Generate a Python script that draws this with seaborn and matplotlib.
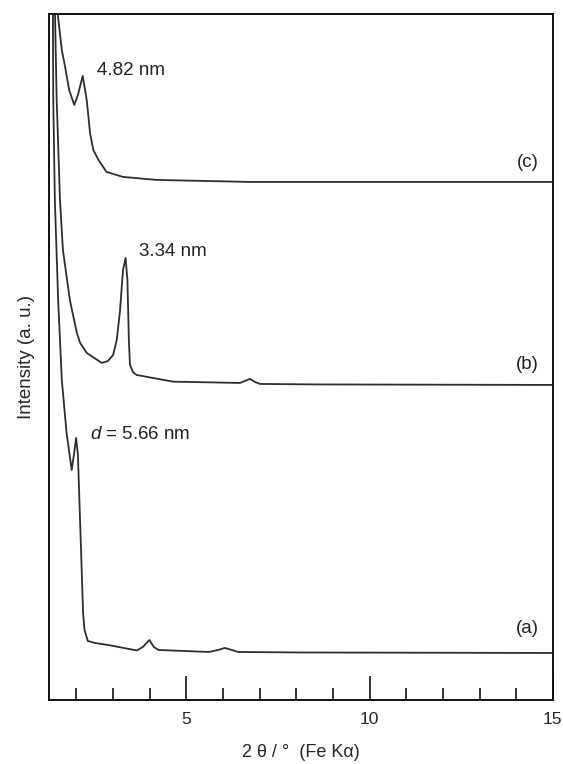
import pandas as pd
import matplotlib.pyplot as plt
import seaborn as sns
from matplotlib.ticker import MultipleLocator, FixedLocator

# Patrones XRD a bajo angulo (intensidad con desplazamiento)
two_theta_a = [1.345, 1.367, 1.41, 1.50, 1.60, 1.73, 1.87, 1.93, 1.99, 2.04, 2.08, 2.14,
               2.18, 2.22, 2.31, 2.505, 2.86, 3.65, 3.81, 3.99, 4.11, 4.24, 5.62, 5.86,
               6.05, 6.24, 6.41, 8.10, 15.0]
intensity_a = [800, 600, 500, 400, 320, 267, 230, 245, 262, 245, 200, 133,
               87, 70, 59, 57, 55, 49.5, 53, 60, 53, 50, 48, 50,
               52, 50, 48, 47.5, 47]

two_theta_b = [1.414, 1.46, 1.55, 1.63, 1.82, 2.01, 2.10, 2.28, 2.69, 2.86, 3.00, 3.10,
               3.19, 3.27, 3.34, 3.39, 3.43, 3.46, 3.54, 3.64, 4.63, 6.46, 6.60, 6.73,
               6.87, 7.01, 8.64, 15.0]
intensity_b = [686, 600, 500, 450, 400, 367, 357, 347, 337, 339, 345, 360,
               390, 430, 442, 420, 360, 335, 328, 325, 318.3, 317, 319, 321,
               318, 316, 315.5, 315]

two_theta_c = [1.48, 1.50, 1.60, 1.69, 1.80, 1.94, 2.04, 2.17, 2.28, 2.37, 2.46, 2.60,
               2.82, 3.27, 4.19, 6.73, 15.0]
intensity_c = [700, 682, 650, 633, 610, 595, 605, 624, 600, 567, 550, 540,
               528, 523, 520, 518, 518]

curve_labels = ["(a)", "(b)", "(c)"]
label_y = [71, 335, 537]
peak_notes = ["$d$ = 5.66 nm", "3.34 nm", "4.82 nm"]
note_x = [2.37, 3.71, 2.56]
note_y = [265, 448, 629]

sns.set_style("white")
plt.rcParams["font.family"] = ["Liberation Sans", "DejaVu Sans"]
plt.rcParams["mathtext.fontset"] = "custom"
plt.rcParams["mathtext.it"] = "Liberation Sans:italic"
plt.rcParams["mathtext.rm"] = "Liberation Sans"

fig = plt.figure(figsize=(5.63, 7.64), dpi=100)
ax = fig.add_axes([0.087, 0.0838, 0.895, 0.898])

color = "#2e2e2e"
for tt, ii in [(two_theta_a, intensity_a), (two_theta_b, intensity_b), (two_theta_c, intensity_c)]:
    df = pd.DataFrame({"t": tt, "i": ii})
    sns.lineplot(data=df, x="t", y="i", ax=ax, color=color, linewidth=1.3,
                 estimator=None, sort=False)

for lab, yy in zip(curve_labels, label_y):
    ax.text(14.62, yy, lab, ha="right", va="center", fontsize=13.5, color="#222222")
for note, xx, yy in zip(peak_notes, note_x, note_y):
    ax.text(xx, yy, note, ha="left", va="center", fontsize=13.5, color="#222222")

ax.set_xlim(1.25, 15)
ax.set_ylim(0, 686)
ax.set_yticks([])
ax.xaxis.set_major_locator(FixedLocator([5, 10, 15]))
ax.xaxis.set_minor_locator(MultipleLocator(1))
ax.tick_params(axis="x", which="major", direction="in", length=17, width=1.2,
               labelsize=12.5, pad=9, bottom=True, top=False, color="#111111")
ax.tick_params(axis="x", which="minor", direction="in", length=8.5, width=1.2,
               bottom=True, top=False, color="#111111")
for sp in ax.spines.values():
    sp.set_color("#111111")
    sp.set_linewidth(1.4)

ax.set_xlabel("2 θ / °  (Fe Kα)", fontsize=13, labelpad=12)
ax.set_ylabel("Intensity (a. u.)", fontsize=13.5, labelpad=10)

fig.savefig("out.png", dpi=100)
